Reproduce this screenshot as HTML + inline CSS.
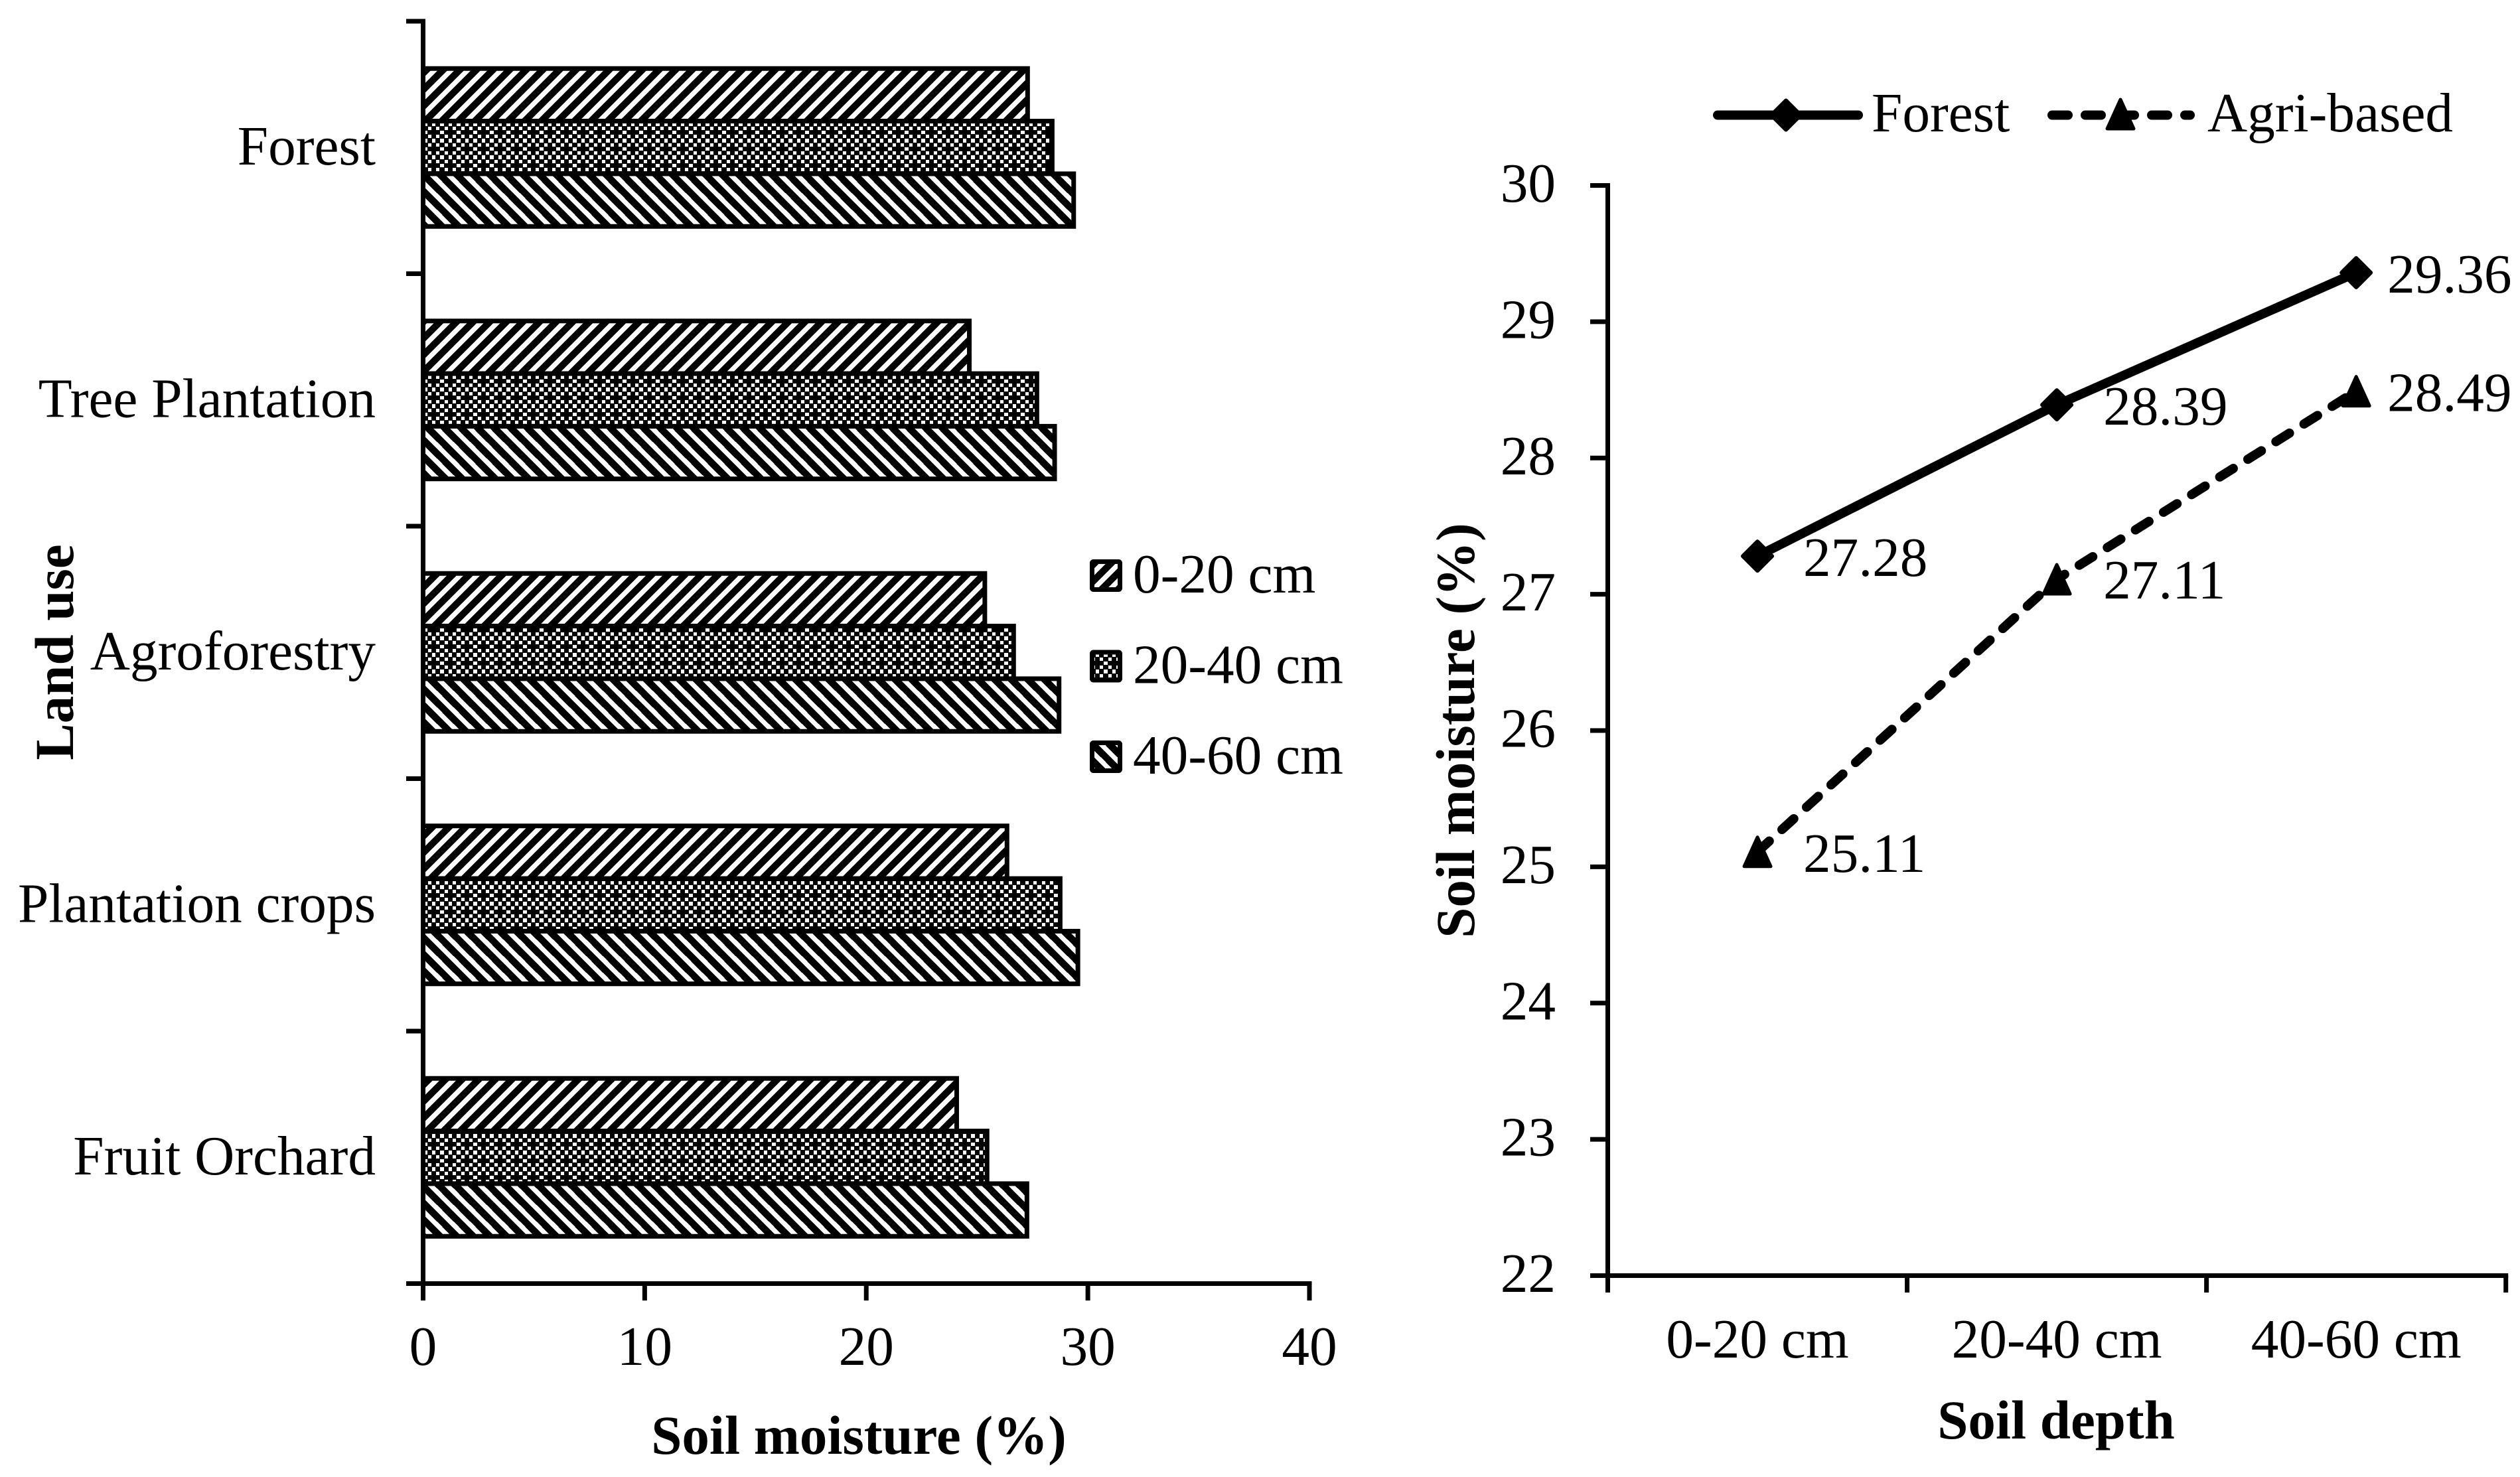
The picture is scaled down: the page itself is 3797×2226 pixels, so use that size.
<!DOCTYPE html>
<html>
<head>
<meta charset="utf-8">
<title>Soil moisture by land use and soil depth</title>
<style>
html,body{margin:0;padding:0;background:#fff;}
svg{display:block;}
text{font-family:"Liberation Serif",serif;font-size:83.3px;fill:#000;}
.b{font-weight:bold;font-size:83px;}
</style>
</head>
<body>
<svg id="chart" xmlns="http://www.w3.org/2000/svg" width="3797" height="2226" viewBox="0 0 3797 2226">
<defs>
<pattern id="hatch-up" patternUnits="userSpaceOnUse" width="25" height="25" x="641" y="107">
<rect width="25" height="25" fill="#fff"/>
<path d="M-6 6L6 -6M-6 31L31 -6M19 31L31 19" stroke="#000" stroke-width="10.6" shape-rendering="crispEdges" fill="none"/>
</pattern>
<pattern id="hatch-dots" patternUnits="userSpaceOnUse" width="25" height="25" x="641" y="187">
<rect width="25" height="25" fill="#000"/>
<g fill="#fff" shape-rendering="crispEdges">
<rect x="0" y="0" width="3" height="3"/><rect x="22" y="0" width="3" height="3"/><rect x="0" y="22" width="3" height="3"/><rect x="22" y="22" width="3" height="3"/>
<rect x="4" y="4" width="5" height="5"/><rect x="16" y="4" width="5" height="5"/><rect x="4" y="16" width="5" height="5"/><rect x="16" y="16" width="5" height="5"/>
<rect x="10" y="0" width="5" height="3"/><rect x="10" y="22" width="5" height="3"/><rect x="0" y="10" width="3" height="5"/><rect x="22" y="10" width="3" height="5"/>
</g>
</pattern>
<pattern id="hatch-down" patternUnits="userSpaceOnUse" width="25" height="25" x="641" y="266">
<rect width="25" height="25" fill="#fff"/>
<path d="M-6 19L6 31M-6 -6L31 31M19 -6L31 6" stroke="#000" stroke-width="10.6" shape-rendering="crispEdges" fill="none"/>
</pattern>
</defs>
</svg>
<script>
// Left chart data
const landUses = ["Forest", "Tree Plantation", "Agroforestry", "Plantation crops", "Fruit Orchard"];
const depthNames = ["0-20 cm", "20-40 cm", "40-60 cm"];
const depth0to20 = [27.28, 24.65, 25.35, 26.35, 24.08];
const depth20to40 = [28.39, 27.7, 26.65, 28.75, 25.45];
const depth40to60 = [29.36, 28.5, 28.7, 29.55, 27.25];
const moistureTicks = [0, 10, 20, 30, 40];
// Right chart data
const forestSeries = [27.28, 28.39, 29.36];
const agriSeries = [25.11, 27.11, 28.49];
const lineTicks = [22, 23, 24, 25, 26, 27, 28, 29, 30];
const lineSeriesNames = ["Forest", "Agri-based"];

const NS = "http://www.w3.org/2000/svg";
const svg = document.getElementById("chart");

function make(tag, attrs, text) {
  const el = document.createElementNS(NS, tag);
  for (const k in attrs) el.setAttribute(k, attrs[k]);
  if (text !== undefined) el.textContent = text;
  svg.appendChild(el);
  return el;
}
function seg(x1, y1, x2, y2, w) {
  return make("line", {x1: x1, y1: y1, x2: x2, y2: y2, stroke: "#000", "stroke-width": w});
}

// ---------- Left chart ----------
const L = {x0: 637.5, x1: 1973, top: 32, bottom: 1934.5, xMax: 40};
const xScale = v => L.x0 + (v / L.xMax) * (L.x1 - L.x0);
const catPitch = (L.bottom - L.top) / landUses.length;
const catCenter = i => L.top + catPitch * (i + 0.5);
const barPitch = 79.33;
const depthSeries = [depth0to20, depth20to40, depth40to60];
const fills = ["url(#hatch-up)", "url(#hatch-dots)", "url(#hatch-down)"];

depthSeries.forEach((vals, s) => {
  vals.forEach((v, c) => {
    const top = catCenter(c) + (s - 1.5) * barPitch;
    const r = make("rect", {x: L.x0, y: top, width: xScale(v) - L.x0, height: barPitch, fill: fills[s], stroke: "#000", "stroke-width": 7});
    
    
  });
});

const leftYAxis = seg(L.x0, L.top - 3.5, L.x0, 1960, 7);


const leftXAxis = seg(612, L.bottom, L.x1 + 3.5, L.bottom, 7);



for (let i = 0; i < landUses.length; i++) {
  const t = seg(612, L.top + catPitch * i, L.x0, L.top + catPitch * i, 7);
  
  
}
landUses.forEach((name, i) => {
  const t = make("text", {x: 566, y: catCenter(i) + 25.5, "text-anchor": "end"}, name);
  
  
});
moistureTicks.forEach(v => {
  const tick = seg(xScale(v), L.bottom, xScale(v), 1960, 7);
  
  
  const t = make("text", {x: xScale(v), y: 2057, "text-anchor": "middle"}, String(v));
  
  
});
const leftXTitle = make("text", {x: 1294, y: 2191, "text-anchor": "middle", "class": "b"}, "Soil moisture (%)");


const leftYTitle = make("text", {transform: "translate(110 983) rotate(-90)", "text-anchor": "middle", "class": "b"}, "Land use");



// Left legend
const legendTops = [843, 979.5, 1116];
depthNames.forEach((name, i) => {
  const sw = make("rect", {x: 1645.5, y: legendTops[i] + 3.5, width: 42, height: 42, rx: 2, fill: fills[i], stroke: "#000", "stroke-width": 7});
  
  
  const t = make("text", {x: 1707, y: legendTops[i] + 50}, name);
  
  
});

// ---------- Right chart ----------
const R = {x0: 2422.5, x1: 3775.7, y0: 1922.5, y1: 279.5, vMin: 22, vMax: 30};
const rx = i => R.x0 + (R.x1 - R.x0) * (i + 0.5) / depthNames.length;
const ry = v => R.y0 - (v - R.vMin) / (R.vMax - R.vMin) * (R.y0 - R.y1);

const rightYAxis = seg(R.x0, R.y1 - 3.5, R.x0, 1948, 7);


const rightXAxis = seg(2396, R.y0, R.x1 + 3.5, R.y0, 7);



lineTicks.forEach(v => {
  const tick = seg(2396, ry(v), R.x0, ry(v), 7);
  
  
  const t = make("text", {x: 2344, y: ry(v) + 24.5, "text-anchor": "end"}, String(v));
  
  
});
for (let i = 0; i <= depthNames.length; i++) {
  const tx = R.x0 + (R.x1 - R.x0) * i / depthNames.length;
  const tick = seg(tx, R.y0, tx, 1948, 7);
  
  
}
depthNames.forEach((name, i) => {
  const t = make("text", {x: rx(i), y: 2046, "text-anchor": "middle"}, name);
  
  
});
const rightXTitle = make("text", {x: 3098, y: 2168, "text-anchor": "middle", "class": "b"}, "Soil depth");


const rightYTitle = make("text", {transform: "translate(2221 1101) rotate(-90)", "text-anchor": "middle", "class": "b"}, "Soil moisture (%)");



function diamond(cx, cy) {
  const d = make("path", {d: "M" + cx + " " + (cy - 22) + "L" + (cx + 22) + " " + cy + "L" + cx + " " + (cy + 22) + "L" + (cx - 22) + " " + cy + "Z", fill: "#000", stroke: "#000", "stroke-width": 6, "stroke-linejoin": "round"});
  return d;
}
function triangle(cx, cy) {
  const d = make("path", {d: "M" + cx + " " + (cy - 22) + "L" + (cx + 20) + " " + (cy + 22) + "L" + (cx - 20) + " " + (cy + 22) + "Z", fill: "#000", stroke: "#000", "stroke-width": 5, "stroke-linejoin": "round"});
  return d;
}

function drawSeries(values, dash, marker, key, dyList) {
  const pts = values.map((v, i) => rx(i) + "," + ry(v)).join(" ");
  const attrs = {points: pts, fill: "none", stroke: "#000", "stroke-width": 14, "stroke-linecap": dash ? "round" : "butt"};
  if (dash) attrs["stroke-dasharray"] = dash;
  const line = make("polyline", attrs);
  
  
  const dxList = [69, 70, 47];
  values.forEach((v, i) => {
    const m = marker(rx(i), ry(v));
    
    
    const t = make("text", {x: rx(i) + dxList[i], y: ry(v) + dyList[i]}, v.toFixed(2));
    
    
  });
}
drawSeries(forestSeries, null, diamond, "forest", [30, 30, 30]);
drawSeries(agriSeries, "24 26", triangle, "agri-based", [30, 29, 30]);

// Right legend
const forestKey = seg(2588, 173.5, 2800, 173.5, 14);
forestKey.setAttribute('stroke-linecap', 'round');


const forestKeyMark = diamond(2691, 173.5);


const forestKeyText = make("text", {x: 2820, y: 198}, lineSeriesNames[0]);


const agriKey = seg(3092, 173.5, 3300, 173.5, 14);
agriKey.setAttribute('stroke-linecap', 'round');
agriKey.setAttribute('stroke-dasharray', '24 26');


const agriKeyMark = triangle(3195, 172);


const agriKeyText = make("text", {x: 3326, y: 198}, lineSeriesNames[1]);


</script>
</body>
</html>
